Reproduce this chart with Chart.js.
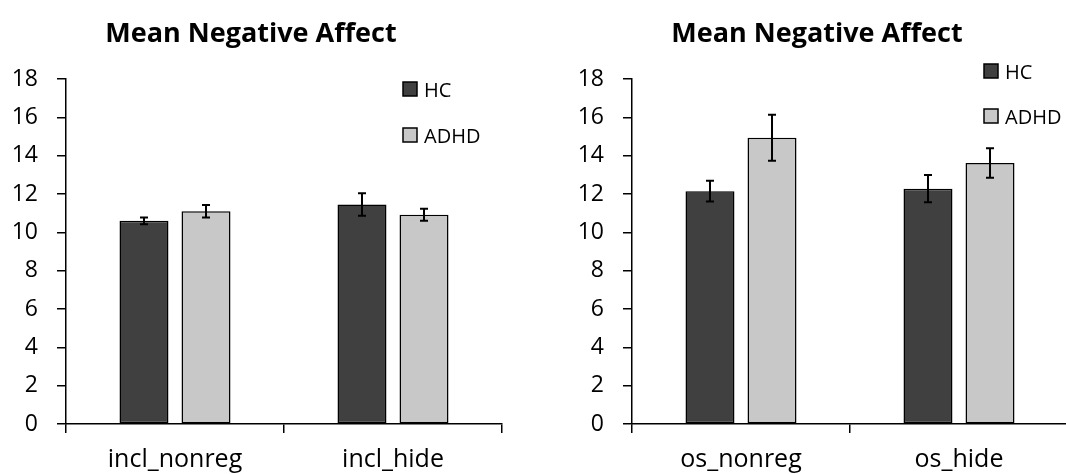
<!DOCTYPE html>
<html>
<head>
<meta charset="utf-8">
<script src="https://cdn.jsdelivr.net/npm/chart.js@4"></script>
<style>
  html, body { margin: 0; padding: 0; background: #fff; overflow: hidden; }
  body { width: 1066px; height: 474px; position: relative; }
  .box { position: absolute; top: 0; width: 533px; height: 474px; }
</style>
</head>
<body>
<div class="box" style="left:0px"><canvas id="chartLeft" width="533" height="474"></canvas></div>
<div class="box" style="left:566px"><canvas id="chartRight" width="533" height="474"></canvas></div>
<script>
// data
const titleText = 'Mean Negative Affect';
const groups = ['HC', 'ADHD'];

const leftCategories = ['incl_nonreg', 'incl_hide'];
const leftHC = [10.6, 11.45];
const leftHCErr = [0.18, 0.59];
const leftADHD = [11.1, 10.92];
const leftADHDErr = [0.32, 0.31];

const rightCategories = ['os_nonreg', 'os_hide'];
const rightHC = [12.15, 12.28];
const rightHCErr = [0.54, 0.71];
const rightADHD = [14.94, 13.62];
const rightADHDErr = [1.2, 0.77];

const yMin = 0, yMax = 18, yStep = 2;

const FONT = '"Open Sans", sans-serif';
const colors = ['#404040', '#c8c8c8'];

// error bars drawn from the y scale
const errorBars = {
  id: 'errorBars',
  afterDatasetsDraw(chart) {
    const ctx = chart.ctx;
    const y = chart.scales.y;
    ctx.save();
    ctx.strokeStyle = '#000';
    ctx.lineWidth = 2;
    chart.data.datasets.forEach((ds, i) => {
      const meta = chart.getDatasetMeta(i);
      meta.data.forEach((bar, j) => {
        const v = ds.data[j], e = ds.errors[j];
        const top = y.getPixelForValue(v + e);
        const bot = y.getPixelForValue(v - e);
        ctx.beginPath();
        ctx.moveTo(bar.x, top); ctx.lineTo(bar.x, bot);
        ctx.moveTo(bar.x - 4, top); ctx.lineTo(bar.x + 4, top);
        ctx.moveTo(bar.x - 4, bot); ctx.lineTo(bar.x + 4, bot);
        ctx.stroke();
      });
    });
    ctx.restore();
  }
};

// legend inside the plot area, stacked
const innerLegend = {
  id: 'innerLegend',
  afterDraw(chart, args, opts) {
    const ctx = chart.ctx;
    const area = chart.chartArea;
    ctx.save();
    ctx.font = '20px ' + FONT;
    ctx.textBaseline = 'alphabetic';
    chart.data.datasets.forEach((ds, i) => {
      const bx = area.left + opts.x;
      const by = opts.y + i * opts.gap;
      ctx.fillStyle = ds.backgroundColor;
      ctx.fillRect(bx, by, 14, 14);
      ctx.strokeStyle = '#000';
      ctx.lineWidth = 1.5;
      ctx.strokeRect(bx, by, 14, 14);
      ctx.fillStyle = '#000';
      ctx.fillText(ds.label, bx + 21, by + 14.5);
    });
    ctx.restore();
  }
};

function makeChart(id, categories, hc, hcErr, adhd, adhdErr, legendPos) {
  return new Chart(document.getElementById(id), {
    type: 'bar',
    data: {
      labels: categories,
      datasets: [
        { label: groups[0], data: hc, errors: hcErr, backgroundColor: colors[0] },
        { label: groups[1], data: adhd, errors: adhdErr, backgroundColor: colors[1] }
      ]
    },
    options: {
      responsive: false,
      animation: false,
      devicePixelRatio: 1,
      layout: { padding: { top: 0, left: 0, right: 31, bottom: 0 } },
      datasets: {
        bar: {
          categoryPercentage: 0.569,
          barPercentage: 0.79,
          borderColor: '#000',
          borderWidth: 1.5,
          borderSkipped: false
        }
      },
      plugins: {
        legend: { display: false },
        tooltip: { enabled: false },
        title: {
          display: true,
          text: titleText,
          color: '#000',
          font: { family: FONT, size: 27, weight: 'bold', lineHeight: 1.2 },
          padding: { top: 18, bottom: 28.6 }
        },
        innerLegend: legendPos
      },
      scales: {
        x: {
          offset: true,
          afterFit(scale) { scale.height = 50; },
          grid: { offset: true, drawOnChartArea: false, drawTicks: true, tickLength: 9, color: '#000', lineWidth: 1.5 },
          border: { display: true, color: '#000', width: 1.5 },
          ticks: { color: '#000', padding: 12, font: { family: FONT, size: 25 } }
        },
        y: {
          min: yMin,
          max: yMax,
          afterFit(scale) { scale.width = 66; },
          grid: { drawOnChartArea: false, drawTicks: true, tickLength: 9, color: '#000', lineWidth: 1.5 },
          border: { display: true, color: '#000', width: 1.5 },
          ticks: { stepSize: yStep, color: '#000', padding: 19, font: { family: FONT, size: 23 } }
        }
      }
    },
    plugins: [errorBars, innerLegend]
  });
}

makeChart('chartLeft', leftCategories, leftHC, leftHCErr, leftADHD, leftADHDErr, { x: 337, y: 82, gap: 46 });
makeChart('chartRight', rightCategories, rightHC, rightHCErr, rightADHD, rightADHDErr, { x: 352, y: 64, gap: 45 });
</script>
</body>
</html>
